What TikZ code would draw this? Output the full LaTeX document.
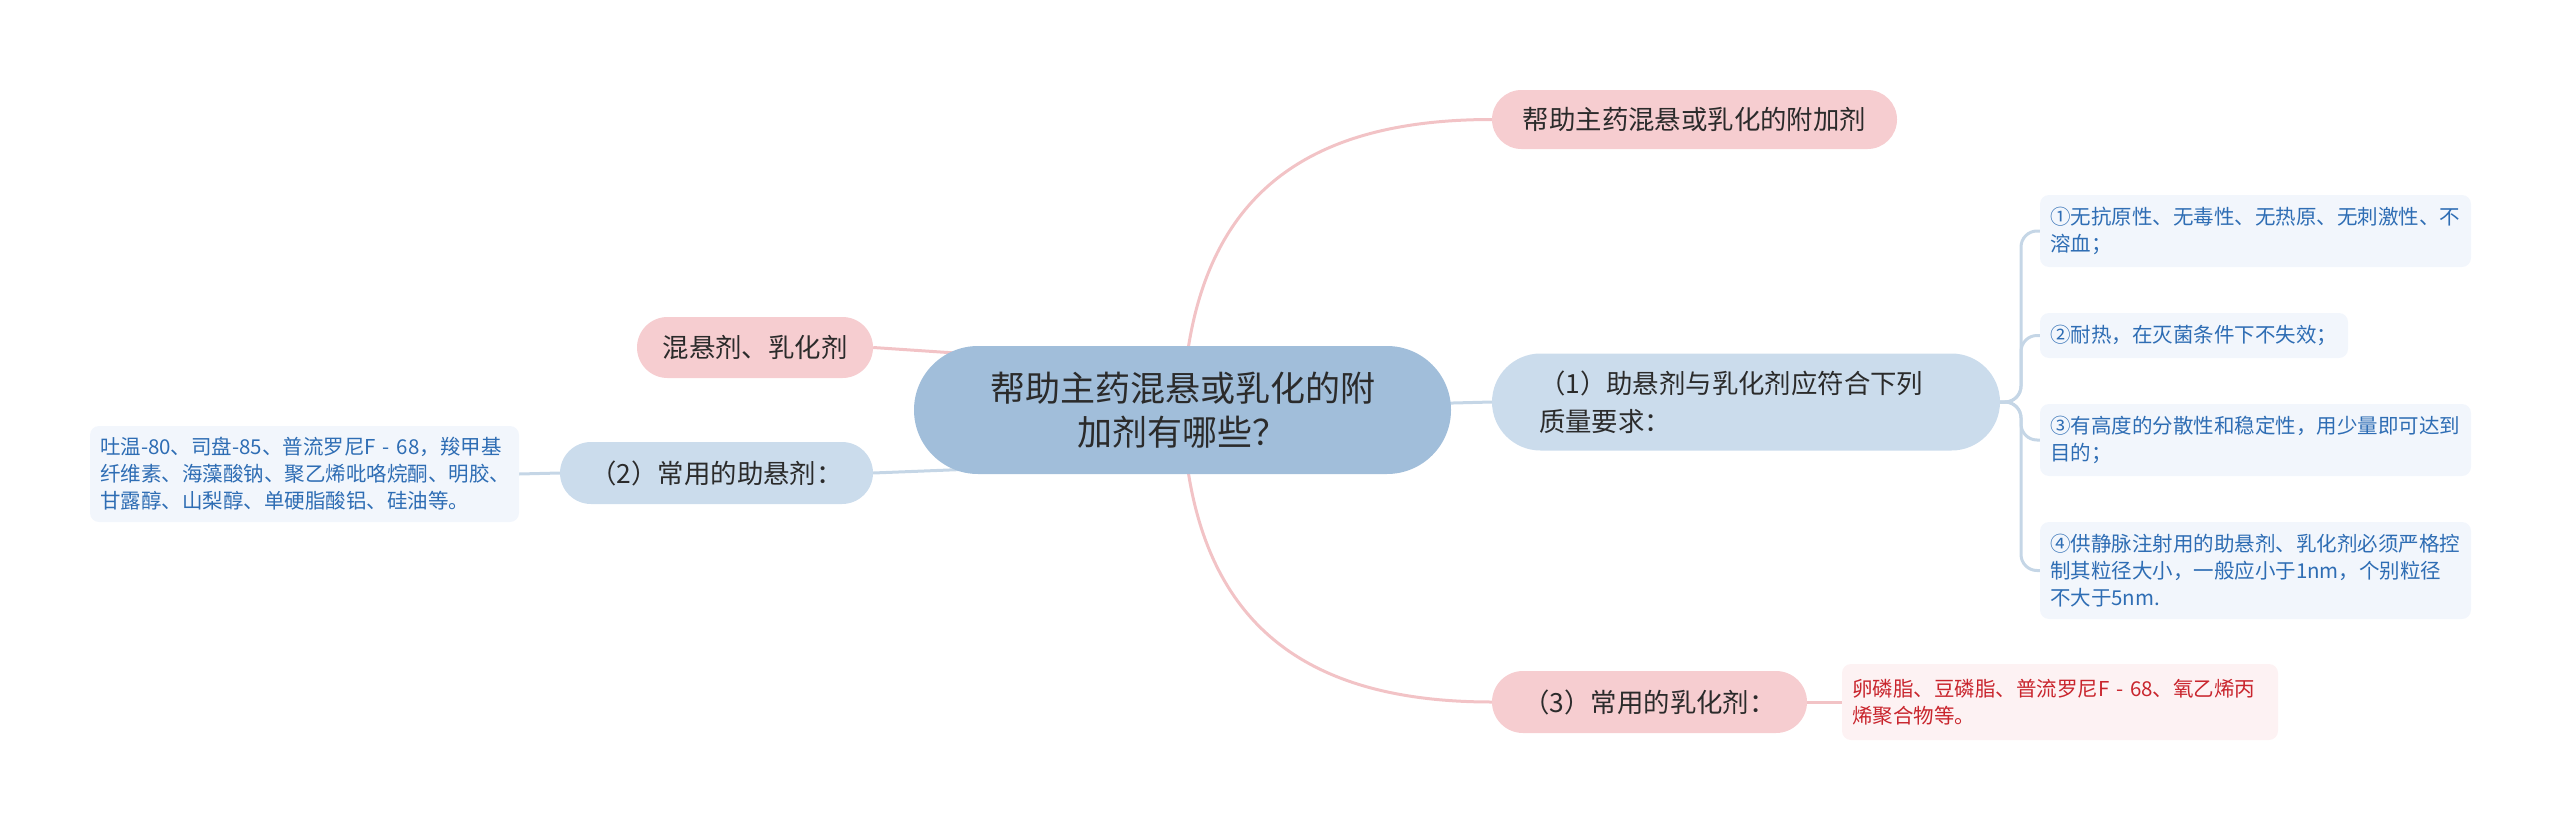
\documentclass[tikz,border=0pt]{standalone}
\usepackage{fontspec}
\setmainfont{Noto Sans CJK SC}
\usetikzlibrary{backgrounds}
\definecolor{cfill}{HTML}{A1BEDA}
\definecolor{bfill}{HTML}{CBDCEC}
\definecolor{pfill}{HTML}{F6CDD0}
\definecolor{blfill}{HTML}{F2F6FC}
\definecolor{bltext}{HTML}{2E6DB4}
\definecolor{plfill}{HTML}{FDF2F3}
\definecolor{pltext}{HTML}{C9252D}
\definecolor{pline}{HTML}{F2C3C6}
\definecolor{bline}{HTML}{C5D6E6}
\definecolor{dtext}{HTML}{2B2B2B}
\newcommand{\mainfs}{\fontsize{35}{44}\selectfont}
\newcommand{\pillfs}{\fontsize{26.4}{38}\selectfont}
\newcommand{\leaffs}{\fontsize{20.5}{27}\selectfont}
\tikzset{
  x=1pt,y=-1pt,
  pill/.style={draw=none, inner sep=0pt, text=dtext, align=center, font=\pillfs},
  bleaf/.style={fill=blfill, draw=none, rounded corners=9pt, inner xsep=10pt, inner ysep=0pt, text=bltext, align=left, font=\leaffs},
  pleaf/.style={fill=plfill, draw=none, rounded corners=9pt, inner xsep=10pt, inner ysep=0pt, text=pltext, align=left, font=\leaffs},
  pedge/.style={draw=pline, line width=3pt},
  bedge/.style={draw=bline, line width=3pt},
}
\begin{document}
\begin{tikzpicture}
\useasboundingbox (0,0) rectangle (2560,827);

\node[pill, fill=cfill, minimum width=537pt, minimum height=128pt, rounded corners=64pt, font=\mainfs] (c) at (1182.5,410) {帮助主药混悬或乳化的附\\加剂有哪些？};

\node[pill, fill=pfill, minimum width=405pt, minimum height=59pt, rounded corners=29.5pt] (top) at (1694.5,119.5) {帮助主药混悬或乳化的附加剂};

\node[pill, fill=bfill, minimum width=508pt, minimum height=97pt, rounded corners=48.5pt, text width=414pt, align=left] (n1) at (1746,402) {（1）助悬剂与乳化剂应符合下列\\质量要求：};

\node[pill, fill=pfill, minimum width=315pt, minimum height=62pt, rounded corners=31pt] (n3) at (1649.5,702) {（3）常用的乳化剂：};

\node[pill, fill=pfill, minimum width=236pt, minimum height=61pt, rounded corners=30.5pt] (mix) at (755,347.5) {混悬剂、乳化剂};

\node[pill, fill=bfill, minimum width=313pt, minimum height=62pt, rounded corners=31pt] (n2) at (716.5,473) {（2）常用的助悬剂：};

\node[bleaf, text width=411pt, minimum height=72pt] (l1) at (2255.5,231) {①无抗原性、无毒性、无热原、无刺激性、不\\溶血；};
\node[bleaf, text width=288pt, minimum height=45pt] (l2) at (2194,335.5) {②耐热，在灭菌条件下不失效；};
\node[bleaf, text width=411pt, minimum height=72pt] (l3) at (2255.5,440) {③有高度的分散性和稳定性，用少量即可达到\\目的；};
\node[bleaf, text width=411pt, minimum height=97pt] (l4) at (2255.5,570.5) {④供静脉注射用的助悬剂、乳化剂必须严格控\\制其粒径大小，一般应小于1nm，个别粒径\\不大于5nm.};

\node[pleaf, text width=416pt, minimum height=76pt] (lp) at (2060,702) {卵磷脂、豆磷脂、普流罗尼F - 68、氧乙烯丙\\烯聚合物等。};

\node[bleaf, text width=409pt, minimum height=96pt] (lb) at (304.5,474) {吐温-80、司盘-85、普流罗尼F - 68，羧甲基\\纤维素、海藻酸钠、聚乙烯吡咯烷酮、明胶、\\甘露醇、山梨醇、单硬脂酸铝、硅油等。};

\coordinate (cl1) at (1000,356);
\coordinate (cl2) at (1000,468);

\begin{scope}[on background layer]
\draw[pedge] (c.center) .. controls (1190,200) and (1300,119.5) .. (top.west);
\draw[pedge] (c.center) .. controls (1190,620) and (1300,702) .. (n3.west);
\draw[bedge] (c.center) -- (n1.west);
\draw[pedge] (mix.east) -- (cl1);
\draw[bedge] (n2.east) -- (cl2);
\draw[bedge] (lb.east) -- (n2.west);
\draw[pedge] (n3.east) -- (lp.west);
\draw[bedge, rounded corners=16pt] (n1.east) -- (2021,402) -- (2021,231) -- (l1.west);
\draw[bedge, rounded corners=16pt] (n1.east) -- (2021,402) -- (2021,335.5) -- (l2.west);
\draw[bedge, rounded corners=16pt] (n1.east) -- (2021,402) -- (2021,440) -- (l3.west);
\draw[bedge, rounded corners=16pt] (n1.east) -- (2021,402) -- (2021,570.5) -- (l4.west);
\end{scope}
\end{tikzpicture}
\end{document}
